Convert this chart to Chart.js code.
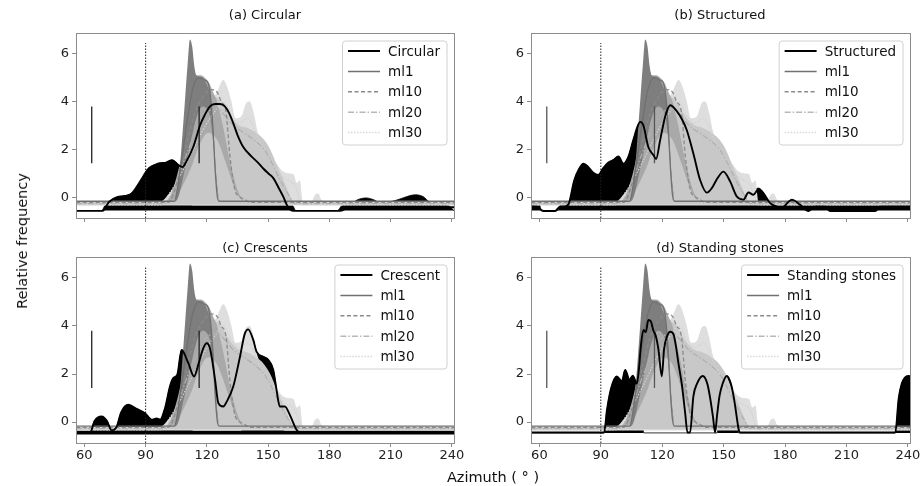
<!DOCTYPE html>
<html>
<head>
<meta charset="utf-8">
<script src="https://cdn.jsdelivr.net/npm/chart.js@4.4.1/dist/chart.umd.min.js"></script>
<style>
  body { margin: 0; background: #fff; font-family: "DejaVu Sans", sans-serif; }
  #wrap { position: relative; width: 921px; height: 486px; overflow: hidden; }
  #wrap canvas { position: absolute; }
  .ttl { position: absolute; font-size: 13px; line-height: 16px; color: #111; white-space: nowrap; transform: translateX(-50%); }
  #ylab { position: absolute; left: 22px; top: 241px; font-size: 14.5px; color: #111; white-space: nowrap; transform: translate(-50%, -50%) rotate(-90deg); }
  #xlab { position: absolute; left: 493px; top: 469px; font-size: 14.5px; color: #111; white-space: nowrap; transform: translateX(-50%); }
</style>
</head>
<body>
<div id="wrap">
  <canvas id="p0" width="475" height="232" style="left:0;top:0"></canvas>
  <canvas id="p1" width="451" height="232" style="left:470px;top:0"></canvas>
  <canvas id="p2" width="475" height="254" style="left:0;top:232px"></canvas>
  <canvas id="p3" width="451" height="254" style="left:470px;top:232px"></canvas>
  <div class="ttl" style="left:265px;top:7px">(a) Circular</div>
  <div class="ttl" style="left:720px;top:7px">(b) Structured</div>
  <div class="ttl" style="left:265px;top:240px">(c) Crescents</div>
  <div class="ttl" style="left:720px;top:240px">(d) Standing stones</div>
  <div id="ylab">Relative frequency</div>
  <div id="xlab">Azimuth ( ° )</div>
</div>
<script>
// axes
const xTickVals = [60, 90, 120, 150, 180, 210, 240];
const yTickVals = [0, 2, 4, 6];
const seriesNames = ["Circular", "Structured", "Crescent", "Standing stones"];
const modelNames = ["ml1", "ml10", "ml20", "ml30"];

// model bands (same in every panel)
const mlx30 = [56, 97, 101, 105, 108, 111, 114, 118, 122, 125, 128, 130, 132, 134, 137, 139, 141, 143, 145, 147, 149, 151, 154, 157, 160, 162.5, 164, 165.5, 167, 171, 173, 174.5, 176, 178, 241];
const ml30Hi = [-0.2, -0.2, 0.1, 0.6, 1.2, 1.9, 2.6, 3.4, 4.0, 4.4, 4.9, 4.6, 4.0, 3.3, 3.4, 3.9, 4.0, 3.5, 2.7, 2.5, 2.2, 1.6, 1.4, 1.1, 1.0, 0.95, 0.6, 0.7, -0.2, -0.2, 0.1, 0.15, -0.1, -0.2, -0.2];
const mlx20 = [56, 99, 104, 108, 112, 116, 120, 123, 126, 129, 132, 136, 140, 144, 148, 151, 154, 157, 159, 161, 163, 241];
const ml20Hi = [-0.22, -0.22, 0.3, 1.2, 2.3, 3.4, 4.0, 4.2, 4.1, 3.7, 3.3, 3.0, 2.9, 2.7, 2.4, 2.0, 1.4, 0.8, 0.4, 0.0, -0.22, -0.22];
const mlx10 = [101, 104, 107, 110, 113, 115, 117, 119, 121, 123, 125, 127, 129, 131, 133, 135, 138];
const ml10Hi = [-0.2, 0.5, 1.5, 3.0, 4.5, 5.1, 5.1, 5.0, 4.8, 4.4, 4.0, 3.3, 2.5, 1.6, 0.9, 0.3, -0.2];
const ml10Lo = [-0.2, -0.1, 0.3, 0.8, 1.4, 1.9, 2.3, 2.6, 2.7, 2.6, 2.4, 2.0, 1.5, 1.0, 0.5, 0.1, -0.2];
const mlx1 = [104, 105.5, 107, 108, 109.3, 110.5, 111.7, 112.8, 113.8, 114.8, 116, 118, 120, 121.5, 122.5, 123.5, 124.5, 126];
const ml1Hi = [-0.2, 0.3, 1.5, 2.6, 4.1, 5.5, 6.6, 6.3, 5.5, 5.1, 5.05, 5.0, 4.7, 4.3, 3.6, 2.4, 1.0, -0.2];
const ml1Lo = [-0.2, -0.1, 0.3, 0.7, 1.2, 1.7, 2.2, 2.6, 3.0, 3.3, 3.6, 3.8, 3.7, 3.4, 2.8, 1.9, 0.7, -0.2];

// model mean lines
const ml1x = [56, 104, 107, 110, 113, 116, 119, 120.7, 122, 123, 124, 125, 126, 241];
const ml1y = [-0.17, -0.17, 1.2, 3.0, 4.5, 5.0, 4.9, 4.75, 4.0, 2.8, 1.2, 0.1, -0.17, -0.17];
const ml10x = [56, 101, 106, 110, 114, 118, 122, 125, 127, 129.3, 131.3, 133.7, 135.5, 138.6, 141, 241];
const ml10y = [-0.22, -0.22, 0.8, 2.2, 3.5, 4.2, 4.5, 4.4, 4.0, 3.6, 1.7, 0.3, 0.05, -0.1, -0.22, -0.22];
const ml20x = [56, 99, 104, 110, 116, 121, 125, 129, 133, 138, 143, 148, 152, 156, 160, 163, 241];
const ml20y = [-0.27, -0.27, 0.4, 1.8, 3.0, 3.6, 3.7, 3.4, 3.0, 2.7, 2.4, 2.0, 1.4, 0.7, 0.1, -0.27, -0.27];
const ml30x = [56, 97, 102, 110, 118, 124, 128, 132, 136, 140, 146, 152, 158, 163, 167, 241];
const ml30y = [-0.32, -0.32, 0.2, 1.4, 2.8, 3.6, 4.0, 3.4, 3.1, 3.3, 2.3, 1.4, 0.8, 0.5, -0.32, -0.32];

// (a) Circular
const circX = [56, 69, 72, 76, 80, 84, 88, 92, 96, 100, 103, 106, 108, 110, 113.3, 116.6, 119, 121.5, 124, 126.4, 128.8, 131, 132.9, 135, 137.8, 141.9, 145, 147.6, 150, 152.5, 155.7, 157.5, 159, 160.5, 162.2, 185, 190, 241];
const circY = [-0.57, -0.57, -0.2, 0.0, 0.05, 0.2, 0.7, 1.2, 1.4, 1.45, 1.55, 1.35, 1.26, 1.5, 2.1, 3.0, 3.45, 3.8, 3.9, 3.9, 3.8, 3.5, 3.1, 2.6, 2.1, 1.7, 1.45, 1.2, 1.0, 0.8, 0.3, 0.0, -0.3, -0.5, -0.57, -0.57, -0.42, -0.42];
const circFillX = [56, 68.5, 70, 73, 76, 79, 82, 85, 88, 91, 94, 97, 100, 103, 105, 107, 110, 113, 160, 162, 163.5, 184, 186, 190, 194, 198, 202, 205, 209, 213, 217, 222, 226, 229, 233, 237.3, 239, 241];
const circFillY = [-0.56, -0.56, -0.36, -0.15, 0.0, 0.05, 0.1, 0.4, 0.8, 1.2, 1.35, 1.4, 1.45, 1.55, 1.45, 1.3, 1.3, -0.36, -0.36, -0.36, -0.56, -0.56, -0.36, -0.3, -0.1, -0.03, -0.12, -0.25, -0.2, -0.12, 0.0, 0.1, 0.02, -0.2, -0.27, -0.32, -0.4, -0.56];

// (b) Structured
const structX = [56, 58, 60, 62, 67.7, 70, 72, 74.2, 77, 79.5, 81.5, 83.5, 86, 88.8, 91, 93.7, 96, 98.6, 101, 103.5, 105.9, 107.9, 109.2, 110.8, 113.2, 115.7, 117, 119, 121.5, 123.9, 127.1, 130, 132, 135.2, 138.5, 141.8, 144.2, 147, 149.9, 153.2, 156.4, 159.7, 162.1, 164.5, 167, 169.4, 172.7, 175.9, 178.4, 181, 183.3, 187.4, 191.4, 194.7, 199.6, 202, 224, 226.4, 241];
const structY = [-0.4, -0.4, -0.48, -0.58, -0.58, -0.4, -0.4, -0.3, 0.7, 1.2, 1.4, 1.3, 1.05, 0.93, 1.2, 1.45, 1.55, 1.7, 1.4, 1.7, 2.4, 2.95, 3.15, 3.0, 2.1, 1.76, 1.6, 2.4, 3.4, 3.85, 3.6, 3.2, 2.8, 1.83, 0.72, 0.19, 0.38, 0.8, 1.07, 0.65, 0.03, -0.1, 0.2, 0.1, 0.33, 0.17, -0.25, -0.39, -0.46, -0.25, -0.1, -0.32, -0.58, -0.4, -0.4, -0.58, -0.58, -0.4, -0.4];
const structFillX = [56, 60, 61, 69, 70, 72, 74.2, 77, 79.5, 81.5, 83.5, 86, 88.8, 91, 93.7, 96, 98.6, 101, 103.5, 105.9, 107.9, 109.2, 110.8, 113.2, 116, 159, 161, 164.5, 167, 169.4, 172, 175, 178, 181, 183.3, 186, 189, 241];
const structFillY = [-0.32, -0.32, -0.56, -0.56, -0.36, -0.32, -0.3, 0.7, 1.2, 1.4, 1.3, 1.05, 0.93, 1.2, 1.45, 1.55, 1.7, 1.4, 1.7, 2.4, 2.95, 3.15, 3.0, 2.1, -0.32, -0.32, 0.05, 0.3, 0.38, 0.2, -0.2, -0.32, -0.32, -0.2, -0.1, -0.25, -0.32, -0.32];

// (c) Crescent
const cresX = [56, 62.8, 65, 68.5, 71, 73.4, 75.8, 78, 81.5, 85.6, 89.7, 93, 95.5, 97.1, 99.5, 101.9, 103.5, 105.5, 107.6, 110.9, 113.7, 115.8, 118.2, 119.9, 121.5, 124, 125.6, 128, 129.7, 132.9, 136.2, 138.6, 140.2, 142.7, 144.3, 147.6, 150, 152.5, 154.1, 155.7, 158.2, 160.6, 163.9, 165.9, 241];
const cresY = [-0.45, -0.45, 0.05, 0.23, 0.05, -0.35, -0.2, 0.4, 0.72, 0.55, 0.37, 0.1, 0.15, 0.1, 0.58, 1.48, 1.83, 1.97, 3.0, 2.45, 1.9, 2.4, 3.07, 3.28, 3.07, 1.76, 0.79, 0.65, 0.85, 1.48, 2.72, 3.69, 3.86, 3.42, 2.93, 2.72, 2.59, 2.17, 1.34, 0.65, 0.65, 0.3, -0.32, -0.45, -0.45];
const cresFillX = [56, 62.8, 65, 68.5, 71, 73.4, 75.8, 78, 81.5, 85.6, 89.7, 93, 95.5, 97.1, 99.5, 101.9, 103.5, 105.5, 107.6, 110.9, 113, 137, 138.6, 140.2, 142.7, 144.3, 147.6, 150, 152.5, 154.1, 155.7, 158, 241];
const cresFillY = [-0.37, -0.37, 0.05, 0.23, 0.05, -0.35, -0.2, 0.4, 0.72, 0.55, 0.37, 0.1, 0.15, 0.1, 0.58, 1.48, 1.83, 1.97, 3.0, 2.45, -0.37, -0.37, 3.69, 3.86, 3.42, 2.93, 2.72, 2.59, 2.17, 1.34, 0.65, -0.37, -0.37];

// (d) Standing stones
const stoneX = [56, 91.6, 93, 95, 97.8, 100.3, 101.9, 104, 105.6, 107.6, 108.6, 109.6, 110.8, 112, 113.2, 114.4, 115.7, 116.8, 118.1, 119.8, 120.9, 122.5, 123.9, 125.5, 126.8, 127.9, 129.6, 131.2, 132.3, 133.6, 135.2, 137, 139.8, 142, 143.4, 144.8, 145.8, 146.8, 148, 149.5, 151.5, 153.5, 155, 156.4, 157.3, 158, 233.8, 235.5, 237, 238.5, 240.3, 241];
const stoneY = [-0.43, -0.43, 0.5, 1.4, 1.9, 1.7, 2.17, 1.76, 1.93, 1.6, 2.2, 3.2, 3.83, 3.75, 4.25, 4.2, 3.8, 3.6, 3.05, 1.9, 3.05, 3.6, 3.76, 3.65, 3.1, 2.45, 1.55, 0.37, -0.43, -0.43, 1.07, 1.6, 1.92, 1.6, 1.0, 0.2, -0.43, 0.3, 1.1, 1.6, 1.92, 1.6, 1.0, 0.2, -0.3, -0.43, -0.43, 1.0, 1.6, 1.85, 1.92, 1.9];
const stoneFillX = [56, 91.6, 93, 95, 97.8, 100.3, 101.9, 104, 105.6, 107.6, 109, 111, 146.8, 148, 149.5, 151.5, 153.5, 155, 156.4, 157.3, 233.8, 235.5, 237, 238.5, 240.3, 241];
const stoneFillY = [-0.45, -0.45, 0.5, 1.4, 1.9, 1.7, 2.17, 1.76, 1.93, 1.6, 1.5, -0.45, -0.45, 1.1, 1.6, 1.92, 1.6, 1.0, 0.2, -0.45, -0.45, 1.0, 1.6, 1.85, 1.92, 1.9];

// reference marks
const refX = 90;
const refY = [-0.87, 6.45];
const markerX = [63.6, 116.2];
const markerY = [1.42, 3.8];

const panelData = [
  { x: circX, y: circY, fx: circFillX, fy: circFillY, base: -0.56, mark: "#222" },
  { x: structX, y: structY, fx: structFillX, fy: structFillY, base: -0.56, mark: "#555" },
  { x: cresX, y: cresY, fx: cresFillX, fy: cresFillY, base: -0.52, mark: "#222" },
  { x: stoneX, y: stoneY, fx: stoneFillX, fy: stoneFillY, base: -0.45, mark: "#555" }
];

const panelLayout = [
  { id: "p0", padTop: 33, padRight: 21, yw: 76, xh: 14, xlabels: false },
  { id: "p1", padTop: 33, padRight: 11, yw: 61, xh: 14, xlabels: false },
  { id: "p2", padTop: 25, padRight: 21, yw: 76, xh: 43, xlabels: true },
  { id: "p3", padTop: 25, padRight: 11, yw: 61, xh: 43, xlabels: true }
];

function pts(xs, ys) {
  return xs.map((x, i) => ({ x: x, y: ys[i] }));
}

const frameLegend = {
  id: "frameLegend",
  afterDraw(chart, args, opts) {
    const ctx = chart.ctx;
    const a = chart.chartArea;
    ctx.save();
    ctx.strokeStyle = "#8c8c8c";
    ctx.lineWidth = 1;
    ctx.strokeRect(Math.round(a.left) + 0.5, Math.round(a.top) + 0.5, Math.round(a.right - a.left), Math.round(a.bottom - a.top));

    ctx.font = '13.5px "DejaVu Sans"';
    const items = opts.items;
    const tw = Math.max(...items.map((it) => ctx.measureText(it.text).width));
    const right = a.right - 7;
    const top = a.top + 8;
    const w = 5.5 + 32 + 8 + tw + 7;
    const h = 104;
    const left = right - w;
    ctx.beginPath();
    ctx.roundRect(left, top, w, h, 3);
    ctx.fillStyle = "rgba(255,255,255,0.8)";
    ctx.fill();
    ctx.strokeStyle = "#d0d0d0";
    ctx.stroke();
    items.forEach((it, k) => {
      const y = top + 10 + k * 20.4;
      ctx.beginPath();
      ctx.setLineDash(it.dash);
      ctx.lineWidth = it.width;
      ctx.strokeStyle = it.color;
      ctx.moveTo(left + 5.5, y);
      ctx.lineTo(left + 37.5, y);
      ctx.stroke();
      ctx.setLineDash([]);
      ctx.fillStyle = "#111";
      ctx.textBaseline = "middle";
      ctx.fillText(it.text, left + 45.5, y + 1);
    });
    ctx.restore();
  }
};

function makePanel(i) {
  const d = panelData[i];
  const L = panelLayout[i];
  const line = (data, color, width, dash, order) => ({
    data: data, borderColor: color, borderWidth: width, borderDash: dash,
    fill: false, order: order, cubicInterpolationMode: "monotone"
  });

  const datasets = [];
  datasets.push(line(pts(d.x, d.y), "#000", 1.9, [], 0));
  datasets.push({ data: pts([refX, refX], refY), borderColor: "#222", borderWidth: 1, borderDash: [1.5, 1.5], fill: false, order: 1 });
  markerX.forEach((mx) => {
    datasets.push({ data: pts([mx, mx], markerY), borderColor: d.mark, borderWidth: 1.3, fill: false, order: 1 });
  });
  datasets.push(line(pts(ml1x, ml1y), "#707070", 1.3, [], 2));
  datasets.push(line(pts(ml10x, ml10y), "#8a8a8a", 1.3, [4, 2.5], 3));
  datasets.push(line(pts(ml20x, ml20y), "#b0b0b0", 1.3, [6, 2, 1.5, 2], 4));
  datasets.push(line(pts(ml30x, ml30y), "#d2d2d2", 1.3, [1.5, 1.5], 5));

  // ml1 band
  const ml1LoIdx = datasets.length + 1;
  datasets.push({ data: pts(mlx1, ml1Hi), borderColor: "rgba(0,0,0,0)", borderWidth: 1, backgroundColor: "#7e7e7e", fill: { target: ml1LoIdx }, order: 6, cubicInterpolationMode: "monotone" });
  datasets.push({ data: pts(mlx1, ml1Lo), borderColor: "rgba(0,0,0,0)", borderWidth: 1, fill: false, order: 6.5, cubicInterpolationMode: "monotone" });
  // ml10 band
  const ml10LoIdx = datasets.length + 1;
  datasets.push({ data: pts(mlx10, ml10Hi), borderColor: "rgba(0,0,0,0)", borderWidth: 1, backgroundColor: "#a9a9a9", fill: { target: ml10LoIdx }, order: 7, cubicInterpolationMode: "monotone" });
  datasets.push({ data: pts(mlx10, ml10Lo), borderColor: "rgba(0,0,0,0)", borderWidth: 1, fill: false, order: 7.5, cubicInterpolationMode: "monotone" });
  // ml20, ml30
  datasets.push({ data: pts(mlx20, ml20Hi), borderColor: "rgba(0,0,0,0)", borderWidth: 1, backgroundColor: "#c8c8c8", fill: { value: -0.3 }, order: 8, cubicInterpolationMode: "monotone" });
  datasets.push({ data: pts(mlx30, ml30Hi), borderColor: "rgba(0,0,0,0)", borderWidth: 1, backgroundColor: "#dedede", fill: { value: -0.35 }, order: 9, cubicInterpolationMode: "monotone" });
  // data envelope
  datasets.push({ data: pts(d.fx, d.fy), borderColor: "#000", borderWidth: 0.8, backgroundColor: "#000", fill: { value: d.base }, order: 10, cubicInterpolationMode: "monotone" });

  const legendItems = [
    { text: seriesNames[i], color: "#000", width: 2, dash: [] },
    { text: modelNames[0], color: "#707070", width: 1.5, dash: [] },
    { text: modelNames[1], color: "#8a8a8a", width: 1.5, dash: [4, 2.5] },
    { text: modelNames[2], color: "#b8b8b8", width: 1.5, dash: [6, 2, 1.5, 2] },
    { text: modelNames[3], color: "#d8d8d8", width: 1.5, dash: [1.5, 1.5] }
  ];

  const tickFont = { family: "DejaVu Sans", size: 13 };
  new Chart(document.getElementById(L.id), {
    type: "line",
    data: { datasets: datasets },
    options: {
      responsive: false,
      animation: false,
      devicePixelRatio: 1,
      layout: { autoPadding: false, padding: { left: 0, top: L.padTop, right: L.padRight, bottom: 0 } },
      elements: { point: { radius: 0 }, line: { tension: 0 } },
      plugins: {
        legend: { display: false },
        tooltip: { enabled: false },
        frameLegend: { items: legendItems }
      },
      scales: {
        x: {
          type: "linear",
          min: 55.9,
          max: 241,
          afterBuildTicks: (axis) => { axis.ticks = xTickVals.map((v) => ({ value: v })); },
          afterFit: (axis) => { axis.height = L.xh; axis.paddingLeft = 0; axis.paddingRight = 0; },
          border: { display: false },
          grid: { drawOnChartArea: false, color: "#8c8c8c", tickLength: 4 },
          ticks: { display: L.xlabels, color: "#222", font: tickFont, padding: 1, maxRotation: 0, autoSkip: false }
        },
        y: {
          min: -0.87,
          max: 6.87,
          afterBuildTicks: (axis) => { axis.ticks = yTickVals.map((v) => ({ value: v })); },
          afterFit: (axis) => { axis.width = L.yw; axis.paddingTop = 0; axis.paddingBottom = 0; },
          border: { display: false },
          grid: { drawOnChartArea: false, color: "#8c8c8c", tickLength: 4 },
          ticks: { color: "#222", font: tickFont, padding: 3 }
        }
      }
    },
    plugins: [frameLegend]
  });
}

for (let i = 0; i < 4; i++) makePanel(i);
</script>
</body>
</html>
